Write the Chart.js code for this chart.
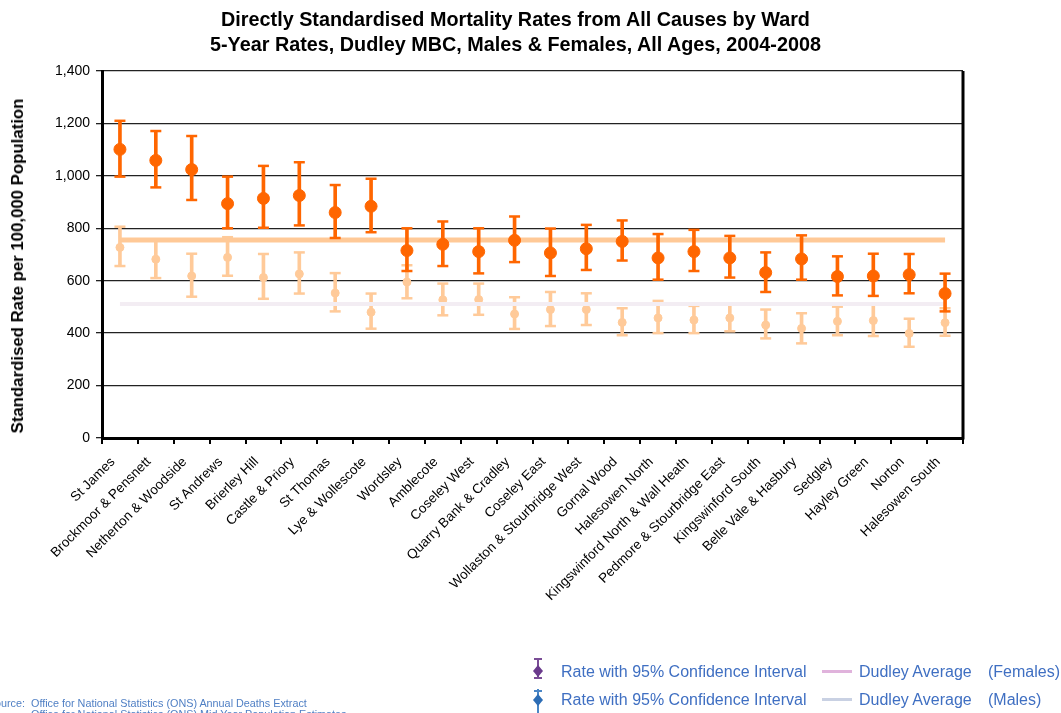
<!DOCTYPE html>
<html>
<head>
<meta charset="utf-8">
<script src="https://cdn.jsdelivr.net/npm/chart.js@4.4.0/dist/chart.umd.min.js"></script>
<style>
  html, body { margin:0; padding:0; background:#fff; overflow:hidden; }
  #wrap { position:relative; width:1061px; height:713px; font-family:"Liberation Sans", Arial, sans-serif; overflow:hidden; }
  #c { position:absolute; left:0; top:0; }
  #title { position:absolute; left:0; width:1031px; top:7px; text-align:center; font-weight:bold; font-size:19.8px; line-height:25px; color:#000; }
  #ytitle { position:absolute; left:18px; top:266px; transform:translate(-50%,-50%) rotate(-90deg); white-space:pre; font-weight:bold; font-size:16.8px; color:#000; }
  .leg { position:absolute; font-size:16px; line-height:18px; color:#3f6fc2; white-space:pre; }
  .src { position:absolute; font-size:10.8px; line-height:12px; color:#4f7fc4; white-space:pre; }
</style>
</head>
<body>
<div id="wrap">
  <canvas id="c" width="1061" height="713"></canvas>
  <div id="title">Directly Standardised Mortality Rates from All Causes by Ward<br>5-Year Rates, Dudley MBC, Males &amp; Females, All Ages, 2004-2008</div>
  <div id="ytitle">Standardised Rate per 100,000 Population</div>

  <svg style="position:absolute;left:528px;top:656px" width="20" height="57">
    <line x1="10" y1="3" x2="10" y2="22" stroke="#7a4d96" stroke-width="2"/>
    <line x1="6" y1="3" x2="14" y2="3" stroke="#7a4d96" stroke-width="2"/>
    <line x1="6" y1="22" x2="14" y2="22" stroke="#7a4d96" stroke-width="2"/>
    <path d="M10 9 L15 15 L10 21 L5 15 Z" fill="#6a3a8c"/>
    <line x1="10" y1="33" x2="10" y2="57" stroke="#4a86c6" stroke-width="2"/>
    <line x1="6" y1="35" x2="14" y2="35" stroke="#4a86c6" stroke-width="2"/>
    <path d="M10 38 L15 44 L10 50 L5 44 Z" fill="#2d6db5"/>
  </svg>
  <div class="leg" style="left:561px;top:663px">Rate with 95% Confidence Interval</div>
  <div class="leg" style="left:561px;top:691px">Rate with 95% Confidence Interval</div>
  <div style="position:absolute;left:822px;top:670px;width:30px;height:3px;background:#e0b3dc"></div>
  <div style="position:absolute;left:822px;top:698px;width:30px;height:3px;background:#c9d1e3"></div>
  <div class="leg" style="left:859px;top:663px">Dudley Average</div>
  <div class="leg" style="left:988px;top:663px">(Females)</div>
  <div class="leg" style="left:859px;top:691px">Dudley Average</div>
  <div class="leg" style="left:988px;top:691px">(Males)</div>

  <div class="src" style="right:1036px;top:697px">Source:</div>
  <div class="src" style="left:31px;top:697px">Office for National Statistics (ONS) Annual Deaths Extract</div>
  <div class="src" style="left:31px;top:708px">Office for National Statistics (ONS) Mid Year Population Estimates</div>
</div>
<script>
const wards = ["St James","Brockmoor & Pensnett","Netherton & Woodside","St Andrews","Brierley Hill","Castle & Priory","St Thomas","Lye & Wollescote","Wordsley","Amblecote","Coseley West","Quarry Bank & Cradley","Coseley East","Wollaston & Stourbridge West","Gornal Wood","Halesowen North","Kingswinford North & Wall Heath","Pedmore & Stourbridge East","Kingswinford South","Belle Vale & Hasbury","Sedgley","Hayley Green","Norton","Halesowen South"];

const maleRate  = [1101,1059,1024,894,914,925,860,884,715,739,711,754,706,722,750,687,711,687,631,683,616,618,623,551];
const maleLower = [997,956,908,800,802,811,763,785,637,656,628,671,618,641,677,604,637,612,557,604,544,542,552,483];
const maleUpper = [1210,1171,1152,997,1038,1052,965,989,800,826,800,845,799,813,830,778,794,771,708,773,693,703,702,627];

const femaleRate  = [727,682,618,689,612,626,553,480,595,527,528,473,490,490,441,458,450,458,431,418,445,448,399,440];
const femaleLower = [656,610,539,619,531,551,483,417,533,468,470,416,427,431,392,400,400,407,380,361,392,389,348,390];
const femaleUpper = [806,755,703,766,702,708,629,551,659,589,589,537,557,552,495,523,504,514,490,476,501,510,455,495];

const dudleyAverageMales = 755;
const dudleyAverageFemales = 511;

const yTicks = [0,200,400,600,800,1000,1200,1400];

const DARK = '#ff6600';
const LIGHT = '#ffca99';

const frame = {
  id:'frame',
  afterDatasetsDraw(chart){
    const {ctx, chartArea:a} = chart;
    ctx.save();
    ctx.strokeStyle = '#000';
    ctx.lineWidth = 3;
    ctx.beginPath();
    ctx.moveTo(a.right, a.top);
    ctx.lineTo(a.right, a.bottom + 1.5);
    ctx.stroke();
    ctx.restore();
  }
};

const pointSet = (data, color, r, order) => ({
  type:'line', data, showLine:false, order,
  pointRadius:r, pointHoverRadius:r, pointBackgroundColor:color, pointBorderColor:color, pointBorderWidth:1
});
const capSet = (data, color, order) => ({
  type:'line', data, showLine:false, order, pointStyle:'line',
  pointRadius:5.5, pointHoverRadius:5.5, pointBorderColor:color, pointBackgroundColor:color, pointBorderWidth:2.5
});
const barSet = (lo, hi, color, order) => ({
  type:'bar', data: lo.map((l,i)=>[l, hi[i]]), backgroundColor:color, borderWidth:0,
  barThickness:3, grouped:false, order
});

new Chart(document.getElementById('c'), {
  data: {
    labels: wards,
    datasets: [
      pointSet(maleRate, DARK, 6, 0),
      capSet(maleUpper, DARK, 1),
      capSet(maleLower, DARK, 1),
      barSet(maleLower, maleUpper, DARK, 2),
      { type:'line', data: wards.map(()=>dudleyAverageMales), borderColor:'#ffc997', borderWidth:5, pointRadius:0, order:3 },
      { type:'line', data: wards.map(()=>dudleyAverageFemales), borderColor:'#f3edf3', borderWidth:4, pointRadius:0, order:4 },
      pointSet(femaleRate, LIGHT, 4, 5),
      capSet(femaleUpper, LIGHT, 6),
      capSet(femaleLower, LIGHT, 6),
      barSet(femaleLower, femaleUpper, LIGHT, 7)
    ]
  },
  options: {
    responsive:false,
    animation:false,
    layout:{ padding:{ left:0, top:71, right:98, bottom:0 } },
    plugins:{ legend:{display:false}, tooltip:{enabled:false}, title:{display:false} },
    scales:{
      x:{
        type:'category',
        offset:true,
        grid:{ offset:true, drawOnChartArea:false, color:'#000', lineWidth:2, tickLength:6 },
        border:{ display:true, color:'#000', width:3 },
        ticks:{ autoSkip:false, maxRotation:45, minRotation:45, color:'#000', padding:10, labelOffset:-7,
                font:{ family:'"Liberation Sans", Arial, sans-serif', size:13.5 } },
        afterFit(s){ s.height = 275; }
      },
      y:{
        min:0, max:1400,
        afterBuildTicks(s){ s.ticks = yTicks.map(v=>({value:v})); },
        grid:{ color:'#222', lineWidth:1.3, tickLength:6 },
        border:{ display:true, color:'#000', width:3 },
        ticks:{ color:'#000', padding:6, font:{ family:'"Liberation Sans", Arial, sans-serif', size:14 },
                callback:v=>v.toLocaleString('en-US') },
        afterFit(s){ s.width = 102; }
      }
    }
  },
  plugins:[frame]
});
</script>
</body>
</html>
